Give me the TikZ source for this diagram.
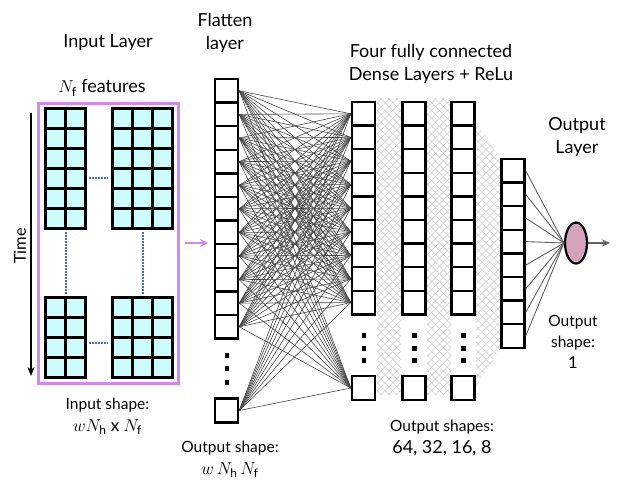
\documentclass[tikz,border=0pt]{standalone}
\usepackage{fontspec}
\setmainfont{Lato}
\usetikzlibrary{arrows.meta,shapes.geometric,patterns.meta}
\definecolor{framemag}{RGB}{214,134,240}
\definecolor{cellcyan}{RGB}{205,252,252}
\definecolor{dotblue}{RGB}{68,110,185}
\definecolor{outpink}{RGB}{212,162,188}

\begin{document}
\begin{tikzpicture}[x=1pt,y=-1pt,
unit/.style={rectangle, draw=black, fill=white, line width=2.5pt, minimum width=23pt, minimum height=23.6pt, inner sep=0pt},
outnode/.style={ellipse, draw=black, fill=outpink, line width=2.2pt, minimum width=22pt, minimum height=41pt, inner sep=0pt},
featcell/.style={draw=black, fill=cellcyan, line width=3pt},
link/.style={draw=black!72, line width=0.6pt},
outlink/.style={draw=black!62, line width=0.9pt},
mesh/.style={pattern={Hatch[angle=45,distance=5.5pt,line width=0.7pt]}, pattern color=black!16},
gap/.style={draw=dotblue, line width=1.7pt, dash pattern=on 1.6pt off 1.4pt},
title/.style={font=\fontsize{18}{23}\selectfont, align=center, inner sep=0pt},
small/.style={font=\fontsize{15.5}{21}\selectfont, align=center, inner sep=0pt},
]
\useasboundingbox (0,0) rectangle (619,480);

%Input layer
\foreach \c in {0,1} \foreach \r in {0,...,5} \draw[featcell] ({45+20*\c},{108+20*\r}) rectangle ++(20,20);
\foreach \c in {0,1,2} \foreach \r in {0,...,5} \draw[featcell] ({112+20*\c},{108+20*\r}) rectangle ++(20,20);
\foreach \c in {0,1} \foreach \r in {0,...,3} \draw[featcell] ({45+20*\c},{297+20*\r}) rectangle ++(20,20);
\foreach \c in {0,1,2} \foreach \r in {0,...,3} \draw[featcell] ({112+20*\c},{297+20*\r}) rectangle ++(20,20);
\draw[gap] (89,178) -- (108,178);
\draw[gap] (89,343) -- (108,343);
\draw[gap] (66,232) -- (66,294);
\draw[gap] (143,232) -- (143,294);
\draw[framemag, line width=3pt] (38,103) rectangle (178,383);

\coordinate (timetop) at (31,113);
\coordinate (timebot) at (31,376);
\draw[-{Stealth[length=9pt,width=7pt]}, line width=1.8pt] (timetop) -- (timebot);
\node[title, rotate=90, font=\fontsize{16.5}{19}\selectfont] (time) at (20,246) {Time};
\coordinate (flatin) at (185,243);
\coordinate (flatat) at (208,243);
\draw[-{Stealth[length=8pt,width=8pt]}, framemag, line width=2pt] (flatin) -- (flatat);

%Crosshatch between dense layers
\fill[mesh] (377,98) rectangle (401,394);
\fill[mesh] (427,98) rectangle (451,394);
\fill[mesh] (476,122) -- (501,160) -- (501,348) -- (476,386) -- cycle;

%Nodes
\foreach \i in {1,...,11} \node[unit] (flat\i) at (226.5,{90.8+23.6*(\i-1)}) {};
\node[unit] (flat12) at (226.5,410.5) {};
\foreach \i in {1,...,9} {
  \node[unit] (hidA\i) at (363.5,{113.8+23.6*(\i-1)}) {};
  \node[unit] (hidB\i) at (414,{113.8+23.6*(\i-1)}) {};
  \node[unit] (hidC\i) at (463,{113.8+23.6*(\i-1)}) {};
}
\node[unit] (hidA10) at (363.5,388) {};
\node[unit] (hidB10) at (414,388) {};
\node[unit] (hidC10) at (463,388) {};
\foreach \i in {1,...,8} \node[unit] (hidD\i) at (513,{170.8+23.6*(\i-1)}) {};
\node[outnode] (out) at (576,243) {};
\coordinate (final) at (610,243);

%Dots
\foreach \y in {355,368,382} \fill (224.5,{\y-2}) rectangle ++(4.5,4.5);
\foreach \x in {363.5,414,463} \foreach \y in {335,348,360} \fill ({\x-2},{\y-2}) rectangle ++(4.5,4.5);

%Lines
\foreach \i in {1,...,12} \foreach \j in {1,...,10} \draw[link] (flat\i.east) -- (hidA\j.west);
\foreach \i in {1,...,8} \draw[outlink] (hidD\i.east) -- (out.west);
\draw[outlink, line width=1.1pt, -{Stealth[length=8pt,width=7pt]}] (out.east) -- (final);

%Labels
\node[title] (inlayer) at (108,43) {Input Layer};
\node[title] (flatlabel) at (225,33) {Flatten\\layer};
\node[title] (denselabel) at (431,64) {Four fully connected\\Dense Layers + ReLu};
\node[title] (outlabel) at (577,137) {Output\\Layer};
\node[title] (features) at (102,88) {$N_{\mathrm{f}}$ features};
\node[small] (inshape) at (107.5,416) {Input shape:\\[1pt]\fontsize{17}{19}\selectfont $wN_{\mathrm{h}}$ x $N_{\mathrm{f}}$};
\node[small] (flatshape) at (230,459) {Output shape:\\[1pt]\fontsize{17}{19}\selectfont $w\,N_{\mathrm{h}}\,N_{\mathrm{f}}$};
\node[small] (denseshape) at (442,438) {Output shapes:\\[1pt]\fontsize{18}{20}\selectfont 64, 32, 16, 8};
\node[small] (outshape) at (573,342) {Output\\shape:\\\fontsize{16.5}{20}\selectfont 1};
\end{tikzpicture}
\end{document}
